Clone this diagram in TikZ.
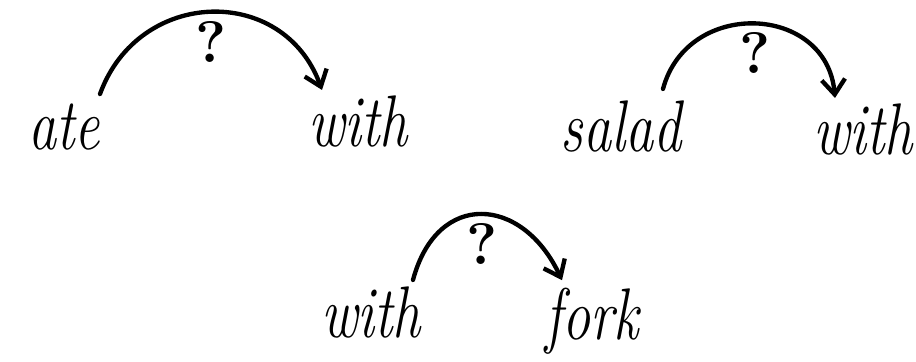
\documentclass[tikz,border=0pt]{standalone}
\usepackage{tikz}
\usetikzlibrary{arrows.meta,positioning}

\begin{document}
\begin{tikzpicture}[x=0.3mm,y=0.3mm,
word/.style={inner sep=0pt,anchor=base,yscale=1.3,font=\fontsize{48}{50}\selectfont\itshape},
dep/.style={line width=1.3mm,line cap=round,-{Straight Barb[length=4.5mm,width=7mm]}},
qmark/.style={inner sep=0pt,font=\fontsize{50}{50}\selectfont\bfseries}]
\useasboundingbox (0,0) rectangle (916,362);
% first pair
\node (ate) [word] at (64,212) {ate};
\node (withA) [word] at (358,215) {with};
% second pair
\node (salad) [word] at (621,210) {salad};
\node (withB) [word] at (863,207) {with};
% third pair
\node (withC) [word] at (371,24) {with};
\node (fork) [word] at (592,22) {fork};
\draw [dep] ([shift={(36,10)}]ate.north) to[out=70,in=110,looseness=1.3]
    node[qmark,pos=.5,below=2mm] {?} ([shift={(-36,6)}]withA.north);
\draw [dep] ([shift={(42,12)}]salad.north) to[out=75,in=95,looseness=1.4]
    node[qmark,pos=.5,below=2mm] {?} ([shift={(-28,6)}]withB.north);
\draw [dep] ([shift={(42,7)}]withC.north) to[out=75,in=115,looseness=1.6]
    node[qmark,pos=.5,below=2mm] {?} ([shift={(-30,8)}]fork.north);
\end{tikzpicture}
\end{document}
